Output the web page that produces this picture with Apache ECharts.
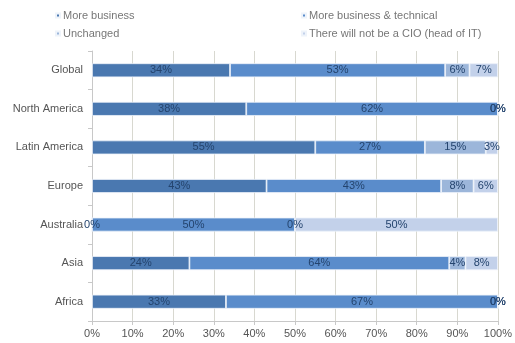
<!DOCTYPE html>
<html>
<head>
<meta charset="utf-8">
<script src="https://cdn.jsdelivr.net/npm/echarts@6/dist/echarts.min.js"></script>
<style>
  html, body { margin: 0; padding: 0; background: #fff; }
  #chart { width: 515px; height: 343px; }
</style>
</head>
<body>
<div id="chart"></div>
<script>
// Regions, listed top to bottom
const regions = ['Global', 'North America', 'Latin America', 'Europe', 'Australia', 'Asia', 'Africa'];

// Share of respondents per answer, in percent
const moreBusiness = [34, 38, 55, 43, 0, 24, 33];
const moreBusinessTechnical = [53, 62, 27, 43, 50, 64, 67];
const unchanged = [6, 0, 15, 8, 0, 4, 0];
const noCio = [7, 0, 3, 6, 50, 8, 0];

const xTicks = [0, 10, 20, 30, 40, 50, 60, 70, 80, 90, 100];

const seriesDefs = [
  { name: 'More business', data: moreBusiness, color: '#4a78b0' },
  { name: 'More business & technical', data: moreBusinessTechnical, color: '#5a8ccb' },
  { name: 'Unchanged', data: unchanged, color: '#9cb6da' },
  { name: 'There will not be a CIO (head of IT)', data: noCio, color: '#c3d1ea' }
];

// Legend laid out as two columns of two entries
const legendBase = {
  orient: 'vertical',
  top: 10,
  padding: 0,
  itemWidth: 4,
  itemHeight: 4,
  itemGap: 7,
  icon: 'rect',
  textStyle: { fontSize: 11, color: '#777', padding: [0, 0, 0, -2] }
};

const chart = echarts.init(document.getElementById('chart'));
chart.setOption({
  animation: false,
  backgroundColor: '#ffffff',
  textStyle: { fontFamily: 'Liberation Sans, Arial, sans-serif' },
  legend: [
    Object.assign({}, legendBase, { left: 55, data: [seriesDefs[0].name, seriesDefs[2].name] }),
    Object.assign({}, legendBase, { left: 301, data: [seriesDefs[1].name, seriesDefs[3].name] })
  ],
  grid: { left: 92, right: 14, top: 51, bottom: 22, containLabel: false },
  xAxis: {
    type: 'value',
    min: 0,
    max: 100,
    interval: 10,
    data: xTicks,
    axisLabel: {
      formatter: v => v + '%',
      fontSize: 11,
      color: '#555',
      margin: 7
    },
    axisLine: { show: true, lineStyle: { color: '#c8c8c8' } },
    axisTick: { show: true, length: 4, lineStyle: { color: '#c8c8c8' } },
    splitLine: { show: true, lineStyle: { color: '#d8d8d0' } }
  },
  yAxis: {
    type: 'category',
    data: regions,
    inverse: true,
    axisLabel: { fontSize: 11, color: '#555', margin: 9 },
    axisLine: { show: true, lineStyle: { color: '#c8c8c8' } },
    axisTick: { show: true, length: 4, lineStyle: { color: '#c8c8c8' } }
  },
  series: seriesDefs.map(s => ({
    name: s.name,
    type: 'bar',
    stack: 'total',
    barWidth: 14,
    data: s.data,
    itemStyle: { color: s.color, borderColor: '#eef3fa', borderWidth: 0.8 },
    label: {
      show: true,
      position: 'inside',
      formatter: p => p.value + '%',
      fontSize: 11,
      color: '#24446e'
    }
  }))
});
</script>
</body>
</html>
